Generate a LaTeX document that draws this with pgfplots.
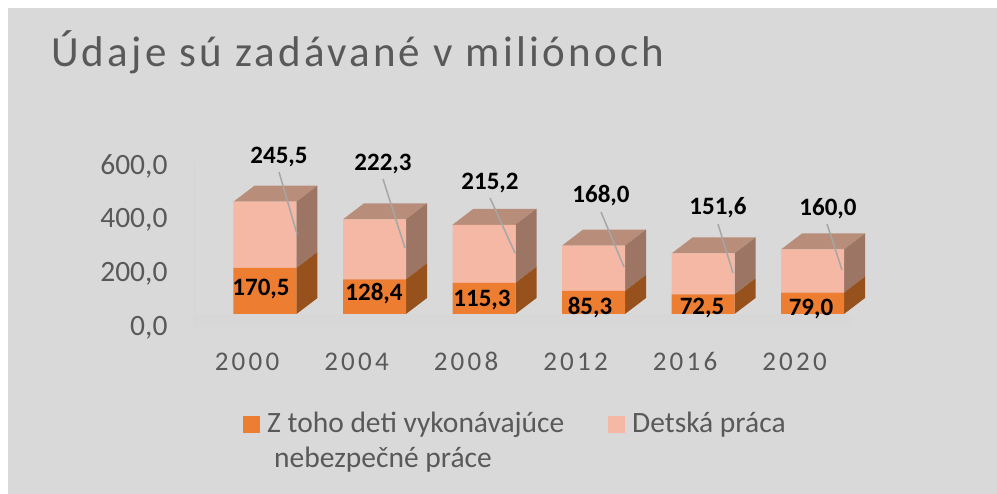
\documentclass[border=0pt]{standalone}
\usepackage{pgfplots}
\pgfplotsset{compat=1.18}
\usepackage{fontspec}
\setmainfont{Carlito}
\newfontfamily\spaced[LetterSpace=12]{Carlito}
\newfontfamily\spacedt[LetterSpace=7.5]{Carlito}
\definecolor{panel}{HTML}{D9D9D9}
\definecolor{floorc}{HTML}{D7D7D7}
\definecolor{txt}{HTML}{595959}
\definecolor{org}{HTML}{ED7D31}
\definecolor{orgside}{HTML}{97511C}
\definecolor{lgt}{HTML}{F4B8A5}
\definecolor{lgtside}{HTML}{9C7565}
\definecolor{lgttop}{HTML}{B88D79}
\definecolor{lead}{HTML}{A6A6A6}
\newcommand{\cube}[4]{%
 \fill[#4] ([xshift=31.5pt]axis cs:#1,#2) -- ([xshift=31.5pt]axis cs:#1,#3) -- ([xshift=52.5pt,yshift=16pt]axis cs:#1,#3) -- ([xshift=52.5pt,yshift=16pt]axis cs:#1,#2) -- cycle;}
\newcommand{\cubetop}[3]{%
 \fill[#3] ([xshift=-31.5pt]axis cs:#1,#2) -- ([xshift=31.5pt]axis cs:#1,#2) -- ([xshift=52.5pt,yshift=16pt]axis cs:#1,#2) -- ([xshift=-10.5pt,yshift=16pt]axis cs:#1,#2) -- cycle;}
\newcommand{\dl}[3]{\node[font=\fontsize{25}{25}\selectfont\bfseries,text=black,inner sep=0pt] at (#1,492-#2) {#3};}
\newcommand{\ld}[4]{\draw[lead,line width=1.5pt] (#1,494-#2) -- (#3,494-#4);}
\begin{document}
\begin{tikzpicture}[x=1pt,y=1pt]
\fill[white] (0,0) rectangle (997,494);
\fill[panel] (8,0) rectangle (997,486);
\fill[floorc] (193,167) rectangle (852,180);
\fill[floorc] (193,167) rectangle (196,332);
\node[anchor=base west,font=\spacedt\fontsize{43}{43}\selectfont,text=txt,inner sep=0pt] at (51,427) {Údaje sú zadávané v miliónoch};
% legend
\fill[org] (243,61) rectangle (260,78);
\fill[lgt] (608,61) rectangle (625,78);
\node[anchor=base west,font=\fontsize{29.5}{29.5}\selectfont,text=txt,inner sep=0pt] at (267,61) {Z toho deti vykonávajúce};
\node[anchor=base west,font=\fontsize{29.5}{29.5}\selectfont,text=txt,inner sep=0pt] at (274,26) {nebezpečné práce};
\node[anchor=base west,font=\fontsize{29.5}{29.5}\selectfont,text=txt,inner sep=0pt] at (632,61) {Detská práca};
\begin{axis}[
 at={(193pt,168pt)},anchor=south west,
 scale only axis,width=687pt,height=174pt,
 xmin=-0.6575,xmax=5.6164,ymin=-44.44,ymax=600,
 clip=false,
 ybar stacked,bar width=63pt,
 xtick={0,1,2,3,4,5},
 xticklabels={2000,2004,2008,2012,2016,2020},
 ytick={0,200,400,600},
 yticklabels={{0,0},{200,0},{400,0},{600,0}},
 tick style={draw=none},
 axis line style={draw=none},
 xticklabel style={font=\spaced\fontsize{27}{27}\selectfont,text=txt,text height=17pt,text depth=0pt,inner sep=0pt,yshift=-27pt,xshift=-18pt},
 yticklabel style={font=\fontsize{29.5}{29.5}\selectfont,text=txt,yshift=-14pt,xshift=-22pt},
]
\addplot[fill=org,draw=none] coordinates {(0,170.5)(1,128.4)(2,115.3)(3,85.3)(4,72.5)(5,79.0)};
\addplot[fill=lgt,draw=none] coordinates {(0,245.5)(1,222.3)(2,215.2)(3,168.0)(4,151.6)(5,160.0)};
\cube{0}{0}{170.5}{orgside}\cube{1}{0}{128.4}{orgside}\cube{2}{0}{115.3}{orgside}\cube{3}{0}{85.3}{orgside}\cube{4}{0}{72.5}{orgside}\cube{5}{0}{79.0}{orgside}
\cube{0}{170.5}{416.0}{lgtside}\cube{1}{128.4}{350.7}{lgtside}\cube{2}{115.3}{330.5}{lgtside}\cube{3}{85.3}{253.3}{lgtside}\cube{4}{72.5}{224.1}{lgtside}\cube{5}{79.0}{239.0}{lgtside}
\cubetop{0}{416.0}{lgttop}\cubetop{1}{350.7}{lgttop}\cubetop{2}{330.5}{lgttop}\cubetop{3}{253.3}{lgttop}\cubetop{4}{224.1}{lgttop}\cubetop{5}{239.0}{lgttop}
\end{axis}
\ld{279}{172}{297}{234}\ld{383}{179}{405}{248}\ld{490}{198}{515}{253}\ld{601}{212}{624}{267}\ld{718}{224}{733}{273}\ld{827}{224}{842}{270}
\dl{279}{155}{245,5}\dl{383}{162}{222,3}\dl{490}{181}{215,2}\dl{601}{194}{168,0}\dl{718}{206}{151,6}\dl{828}{207}{160,0}
\dl{261}{287}{170,5}\dl{374}{292}{128,4}\dl{482}{298}{115,3}\dl{590}{306}{85,3}\dl{702}{306}{72,5}\dl{811}{307}{79,0}
\end{tikzpicture}
\end{document}
